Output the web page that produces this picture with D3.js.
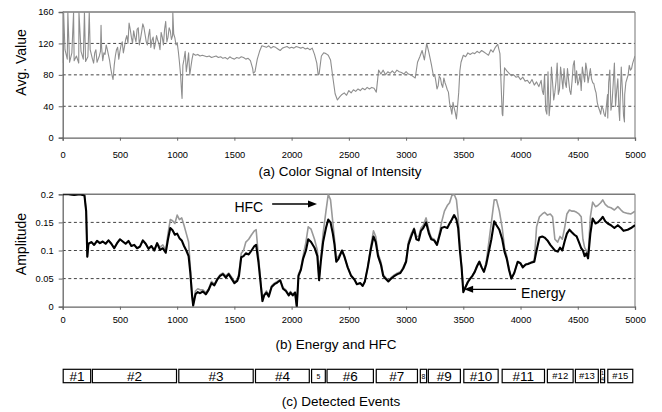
<!DOCTYPE html>
<html><head><meta charset="utf-8">
<script src="https://cdn.jsdelivr.net/npm/d3@7"></script>
<style>
body{margin:0;background:#fff}
text{font-family:"Liberation Sans",Arial,sans-serif;fill:#000}
</style>
</head><body><svg id="c" width="662" height="412"></svg>
<script>
// ---------- data ----------
const xTicks = [0,500,1000,1500,2000,2500,3000,3500,4000,4500,5000];
const intensityTicks = [0,40,80,120,160];
const ampTicks = [0,0.05,0.1,0.15,0.2];
const intensityStep = 20; // frames between samples
const intensity = [
 95,112,100,96,108,98,104,95,110,100,
 97,103,112,100,108,96,104,115,108,118,
 105,88,74,104,115,110,122,116,130,146,
 128,136,122,140,126,145,131,118,138,124,
 113,130,120,134,118,148,128,136,130,127,
 121,96,55,100,84,108,90,107,105,106,
 104,105,104,103,104,102,103,104,102,103,
 101,102,100,103,101,100,102,101,103,102,
 100,101,98,88,84,100,110,117,116,115,
 117,114,116,115,113,111,114,115,116,114,
 115,114,116,115,114,115,113,114,112,114,
 106,95,81,104,108,107,105,99,77,56,
 48,52,55,57,54,60,57,61,59,62,
 60,63,61,64,62,64,63,58,86,81,
 86,80,84,82,85,82,86,84,83,81,
 84,81,80,78,76,96,103,111,99,120,
 108,94,78,72,66,76,64,70,61,44,
 30,38,24,58,96,105,103,108,106,108,
 107,110,108,111,109,107,105,112,109,115,
 119,107,30,89,85,82,79,80,77,78,
 74,77,72,73,69,74,67,71,65,73,
 55,35,84,45,70,58,95,61,76,88,
 64,73,55,92,70,67,81,90,71,86,
 79,75,69,57,39,30,37,27,55,86,
 45,95,60,34,90,28,70,80,86,95,
 104];
// extra in-between readings in the noisy stretches [frame, value]
const intensityDetail = [
 [270,95],[290,112],[310,100],[330,110],[350,98],[370,106],[390,112],
 [410,98],[430,80],[450,92],[470,112],[490,100],[510,118],[530,108],[550,125],[570,120],[590,138],
 [610,120],[630,128],[650,138],[670,118],[690,135],[710,140],[730,122],[750,130],[770,115],[790,128],
 [810,120],[830,124],[850,112],[870,128],[890,138],[910,122],[930,140],[950,125],[970,132],[990,118],
 [1010,110],[1030,80],[1050,92],[1070,110],[1090,95],[1110,80],[1130,100],
 [3250,80],[3270,62],[3290,78],[3310,68],[3330,76],[3350,66],[3370,58],[3390,38],[3410,45],[3430,32],[3450,40],[3470,85],
 [4190,60],[4210,80],[4270,90],[4290,48],[4310,72],[4330,55],[4350,90],[4370,62],[4390,70],[4410,88],
 [4430,60],[4450,72],[4490,85],[4510,72],[4530,60],[4550,80],[4570,95],[4590,70],[4610,88],[4630,70],
 [4650,62],[4670,45],[4690,35],[4710,40],[4730,30],[4750,40],[4770,70],[4790,35],[4810,70],[4830,40],
 [4850,75],[4870,45],[4890,60],[4910,55],[4930,75],[4950,92],[4970,88]];
const intensitySpikes = [[8,160],[45,160],[95,160],[142,160],[190,160],[232,160],[335,143],[962,160],
 [1043,50],[1665,82],[2232,80],[3845,28],[4230,30],[4250,28],[4470,98],[4762,25],[4866,22],[4908,20]];

const energy = [[0,.2],[50,.2],[100,.199],[150,.2],[190,.198],[205,.17],[215,.089],[225,.112],[250,.115],[275,.11],
 [300,.117],[325,.113],[350,.116],[375,.112],[400,.118],[425,.112],[450,.104],[475,.113],[500,.12],[525,.116],
 [550,.112],[575,.117],[600,.108],[625,.11],[650,.104],[675,.107],[700,.118],[725,.112],[750,.103],[775,.108],
 [800,.1],[825,.113],[850,.101],[875,.104],[900,.096],[920,.12],[940,.14],[960,.136],[980,.128],[1000,.13],
 [1020,.122],[1040,.118],[1060,.108],[1080,.1],[1100,.09],[1115,.06],[1130,.02],[1140,.002],[1160,.022],[1180,.026],
 [1200,.024],[1225,.027],[1250,.022],[1275,.03],[1300,.042],[1325,.038],[1350,.048],[1375,.055],[1400,.058],[1425,.052],
 [1450,.058],[1475,.05],[1500,.042],[1525,.046],[1540,.055],[1560,.088],[1580,.09],[1600,.095],[1625,.093],[1650,.1],
 [1675,.108],[1690,.11],[1710,.08],[1730,.04],[1745,.01],[1760,.02],[1780,.025],[1800,.018],[1825,.035],[1850,.04],
 [1875,.043],[1900,.047],[1925,.032],[1950,.028],[1975,.02],[1990,.025],[2010,.02],[2030,.025],[2045,0],[2060,.055],
 [2080,.065],[2100,.085],[2125,.1],[2145,.12],[2170,.115],[2200,.105],[2225,.09],[2240,.047],[2255,.08],[2275,.115],
 [2300,.14],[2320,.155],[2340,.15],[2360,.13],[2375,.11],[2390,.08],[2410,.085],[2440,.1],[2460,.09],[2490,.07],
 [2520,.055],[2550,.048],[2570,.04],[2600,.042],[2620,.037],[2640,.045],[2665,.07],[2690,.1],[2715,.125],[2735,.115],
 [2755,.09],[2780,.075],[2800,.055],[2820,.05],[2845,.045],[2870,.05],[2900,.055],[2925,.058],[2950,.06],[2975,.068],
 [3000,.08],[3020,.11],[3045,.125],[3070,.138],[3090,.12],[3110,.118],[3130,.135],[3150,.14],[3175,.15],[3200,.13],
 [3220,.12],[3245,.118],[3270,.11],[3290,.125],[3310,.14],[3335,.142],[3360,.14],[3380,.148],[3400,.155],[3420,.163],
 [3440,.155],[3455,.14],[3470,.1],[3485,.07],[3500,.026],[3520,.035],[3540,.044],[3560,.05],[3580,.055],[3600,.062],
 [3620,.072],[3640,.08],[3660,.07],[3680,.062],[3700,.075],[3720,.095],[3745,.12],[3770,.152],[3790,.145],[3815,.137],
 [3840,.12],[3860,.098],[3880,.085],[3900,.065],[3920,.05],[3945,.06],[3975,.08],[4000,.077],[4020,.07],[4045,.075],
 [4065,.076],[4090,.078],[4120,.08],[4140,.1],[4165,.123],[4190,.125],[4210,.123],[4235,.118],[4260,.11],[4280,.105],
 [4300,.1],[4325,.098],[4345,.105],[4365,.1],[4385,.116],[4405,.13],[4427,.137],[4450,.132],[4470,.128],[4490,.125],
 [4510,.115],[4530,.104],[4545,.1],[4560,.09],[4575,.095],[4590,.086],[4610,.13],[4630,.157],[4655,.148],[4675,.15],
 [4700,.155],[4718,.16],[4740,.152],[4762,.148],[4790,.145],[4820,.14],[4850,.145],[4878,.14],[4900,.135],[4936,.137],
 [4965,.14],[5000,.145]];

const hfc = [[0,.2],[50,.2],[100,.199],[150,.2],[190,.198],[205,.17],[215,.089],[225,.112],[250,.115],[275,.11],
 [300,.117],[325,.113],[350,.116],[375,.112],[400,.118],[425,.112],[450,.104],[475,.113],[500,.12],[525,.116],
 [550,.112],[575,.117],[600,.108],[625,.11],[650,.104],[675,.107],[700,.118],[725,.112],[750,.103],[775,.108],
 [800,.1],[825,.113],[850,.106],[875,.11],[900,.1],[920,.13],[940,.155],[960,.153],[980,.148],[1000,.163],
 [1020,.155],[1040,.158],[1060,.145],[1080,.13],[1100,.115],[1115,.07],[1130,.02],[1140,.004],[1160,.028],[1180,.032],
 [1200,.03],[1225,.03],[1250,.025],[1275,.032],[1300,.045],[1325,.04],[1350,.05],[1375,.057],[1400,.06],[1425,.055],
 [1450,.06],[1475,.053],[1500,.044],[1525,.048],[1540,.06],[1560,.095],[1580,.1],[1600,.115],[1625,.12],[1650,.128],
 [1675,.135],[1690,.137],[1710,.09],[1730,.045],[1745,.012],[1760,.022],[1780,.028],[1800,.02],[1825,.037],[1850,.042],
 [1875,.045],[1900,.048],[1925,.034],[1950,.03],[1975,.022],[1990,.027],[2010,.022],[2030,.026],[2045,0],[2060,.058],
 [2080,.068],[2100,.09],[2125,.115],[2145,.142],[2170,.138],[2200,.12],[2225,.1],[2240,.05],[2255,.085],[2275,.13],
 [2300,.17],[2320,.2],[2340,.19],[2360,.15],[2375,.12],[2390,.085],[2410,.09],[2440,.1],[2460,.09],[2490,.07],
 [2520,.055],[2550,.048],[2570,.04],[2600,.042],[2620,.037],[2640,.045],[2665,.07],[2690,.105],[2715,.135],[2735,.125],
 [2755,.095],[2780,.08],[2800,.058],[2820,.052],[2845,.047],[2870,.052],[2900,.057],[2925,.06],[2950,.062],[2975,.07],
 [3000,.082],[3020,.115],[3045,.13],[3070,.14],[3090,.125],[3110,.125],[3130,.14],[3150,.145],[3175,.158],[3200,.135],
 [3220,.123],[3245,.12],[3270,.112],[3290,.13],[3310,.15],[3335,.17],[3360,.18],[3380,.185],[3400,.198],[3420,.2],
 [3440,.19],[3455,.16],[3470,.11],[3485,.072],[3500,.028],[3520,.036],[3540,.045],[3560,.05],[3580,.056],[3600,.063],
 [3620,.073],[3640,.081],[3660,.071],[3680,.063],[3700,.08],[3720,.11],[3745,.15],[3770,.19],[3790,.19],[3815,.17],
 [3840,.14],[3860,.105],[3880,.09],[3900,.068],[3920,.05],[3945,.06],[3975,.08],[4000,.078],[4020,.07],[4045,.075],
 [4065,.077],[4090,.079],[4120,.082],[4140,.142],[4165,.16],[4190,.165],[4210,.168],[4235,.163],[4260,.165],[4280,.16],
 [4300,.12],[4325,.115],[4345,.125],[4365,.12],[4385,.14],[4405,.165],[4427,.172],[4450,.17],[4470,.17],[4490,.168],
 [4510,.165],[4530,.16],[4545,.12],[4560,.105],[4575,.1],[4590,.09],[4610,.16],[4630,.186],[4655,.178],[4675,.18],
 [4700,.185],[4718,.19],[4740,.182],[4762,.178],[4790,.176],[4820,.172],[4850,.178],[4878,.172],[4900,.168],[4936,.166],
 [4965,.165],[5000,.17]];

const eventLabels = ["#1","#2","#3","#4","5","#6","#7","8","#9","#10","#11","#12","#13","14","#15"];
const eventStart  = [0,255,1010,1680,2170,2305,2735,3120,3190,3500,3835,4230,4475,4695,4758];
const eventEnd    = [240,990,1660,2150,2290,2710,3095,3175,3470,3800,4205,4455,4675,4730,4976];

const captions = ["(a) Color Signal of Intensity","(b) Energy and HFC","(c) Detected Events"];
const yTitles = ["Avg. Value","Amplitude"];
const annotations = [{label:"HFC", from:[1830,0.1827], to:[2222,0.1827]},
                     {label:"Energy", from:[3961,0.031], to:[3507,0.031]}];

// ---------- drawing ----------
const svg = d3.select("#c");
const L = 62.7, R = 635;
const x = d3.scaleLinear().domain([0,5000]).range([L,R]);
const yA = d3.scaleLinear().domain([0,160]).range([137.7,12]);
const yB = d3.scaleLinear().domain([0,0.2]).range([306.7,194.3]);

function panel(y, ticks, fmt, labelPad, clipId){
  const g = svg.append("g");
  g.selectAll("line.grid").data(ticks.slice(1,-1)).enter().append("line")
    .attr("x1",L).attr("x2",R).attr("y1",d=>y(d)).attr("y2",d=>y(d))
    .attr("stroke","#444").attr("stroke-width",1).attr("stroke-dasharray","3,2.6");
  const top = y(ticks[ticks.length-1]);
  g.append("line").attr("x1",L).attr("x2",R).attr("y1",top).attr("y2",top).attr("stroke","#7a7a7a").attr("stroke-width",1.4);
  g.append("line").attr("x1",R).attr("x2",R).attr("y1",top).attr("y2",y(0)).attr("stroke","#8a8a8a").attr("stroke-width",1.2);
  svg.append("clipPath").attr("id",clipId).append("rect")
    .attr("x",L).attr("y",top).attr("width",R-L).attr("height",y(0)-top);
  const ax = g.append("g").attr("transform",`translate(0,${y(0)})`)
    .call(d3.axisBottom(x).tickValues(xTicks).tickSize(3).tickPadding(labelPad).tickFormat(d3.format("d")));
  const ay = g.append("g").attr("transform",`translate(${L},0)`)
    .call(d3.axisLeft(y).tickValues(ticks).tickSize(4).tickPadding(5).tickFormat(fmt));
  [ax,ay].forEach(a=>{
    a.select(".domain").attr("stroke","#666").attr("stroke-width",1.3);
    a.selectAll(".tick line").attr("stroke","#666");
    a.selectAll(".tick text").attr("font-size","9.3px").attr("fill","#000");
  });
  return g;
}

const gA = panel(yA, intensityTicks, d=>d, 10.5, "clipA");
const gB = panel(yB, ampTicks, d=>d===0?"0":String(d), 7, "clipB");

// intensity series
const intPts = intensity.map((v,i)=>[i*intensityStep, v])
  .concat(intensityDetail, intensitySpikes).sort((a,b)=>a[0]-b[0]);
gA.append("path").datum(intPts).attr("clip-path","url(#clipA)")
  .attr("fill","none").attr("stroke","#8e8e8e").attr("stroke-width",1.1).attr("stroke-linejoin","round")
  .attr("d", d3.line().x(d=>x(d[0])).y(d=>yA(d[1])));

// HFC and energy
const lineB = d3.line().x(d=>x(d[0])).y(d=>yB(d[1]));
gB.append("path").datum(hfc).attr("clip-path","url(#clipB)")
  .attr("fill","none").attr("stroke","#999").attr("stroke-width",1.6).attr("stroke-linejoin","round").attr("d",lineB);
gB.append("path").datum(energy).attr("clip-path","url(#clipB)")
  .attr("fill","none").attr("stroke","#000").attr("stroke-width",2.1).attr("stroke-linejoin","round").attr("d",lineB);

// annotations with arrows
annotations.forEach(a=>{
  const x1=x(a.from[0]), y1=yB(a.from[1]), x2=x(a.to[0]), y2=yB(a.to[1]);
  const dir = Math.sign(x2-x1);
  gB.append("line").attr("x1",x1).attr("y1",y1).attr("x2",x2-dir*8).attr("y2",y2).attr("stroke","#000").attr("stroke-width",1.3);
  gB.append("path").attr("d",`M${x2},${y2}L${x2-dir*9},${y2-3.5}L${x2-dir*9},${y2+3.5}Z`).attr("fill","#000");
  const tx = dir>0 ? x1-9 : x1+5;
  gB.append("text").attr("x",tx).attr("y",y1+3.5).attr("dy","0.35em")
    .attr("text-anchor",dir>0?"end":"start").attr("font-size","14px").text(a.label);
});

// y titles
[[21,62.5],[21,244]].forEach((p,i)=>{
  svg.append("text").attr("transform",`translate(${p[0]},${p[1]}) rotate(-90)`)
    .attr("text-anchor","middle").attr("dy","0.35em").attr("font-size","14px").text(yTitles[i]);
});

// captions
[[340,171.5],[336,344],[341,401.5]].forEach((p,i)=>{
  svg.append("text").attr("x",p[0]).attr("y",p[1]).attr("dy","0.35em")
    .attr("text-anchor","middle").attr("font-size","13.5px").text(captions[i]);
});

// event boxes
const evTop = 369.3, evBot = 382.7, evMid = (evTop+evBot)/2;
const gE = svg.append("g");
eventLabels.forEach((lab,i)=>{
  const x0 = x(eventStart[i]), x1 = x(eventEnd[i]), w = x1-x0;
  gE.append("rect").attr("x",x0+0.5).attr("y",evTop).attr("width",w).attr("height",evBot-evTop)
    .attr("fill","#fff").attr("stroke","#000").attr("stroke-width",1.2);
  const cx = x0 + w/2 + 0.5;
  if (w < 8 && lab.length > 1){
    lab.split("").forEach((ch,k)=>{
      gE.append("text").attr("x",cx).attr("y",evTop+3.5+k*6).attr("dy","0.35em")
        .attr("text-anchor","middle").attr("font-size","5.5px").text(ch);
    });
  } else {
    let fs = 13.5;
    if (w < 15) fs = 7; else if (w < 30 && lab.length >= 3) fs = 9.5;
    gE.append("text").attr("x",cx).attr("y",evMid).attr("dy","0.36em")
      .attr("text-anchor","middle").attr("font-size",fs+"px").text(lab);
  }
});
</script>
</body></html>
